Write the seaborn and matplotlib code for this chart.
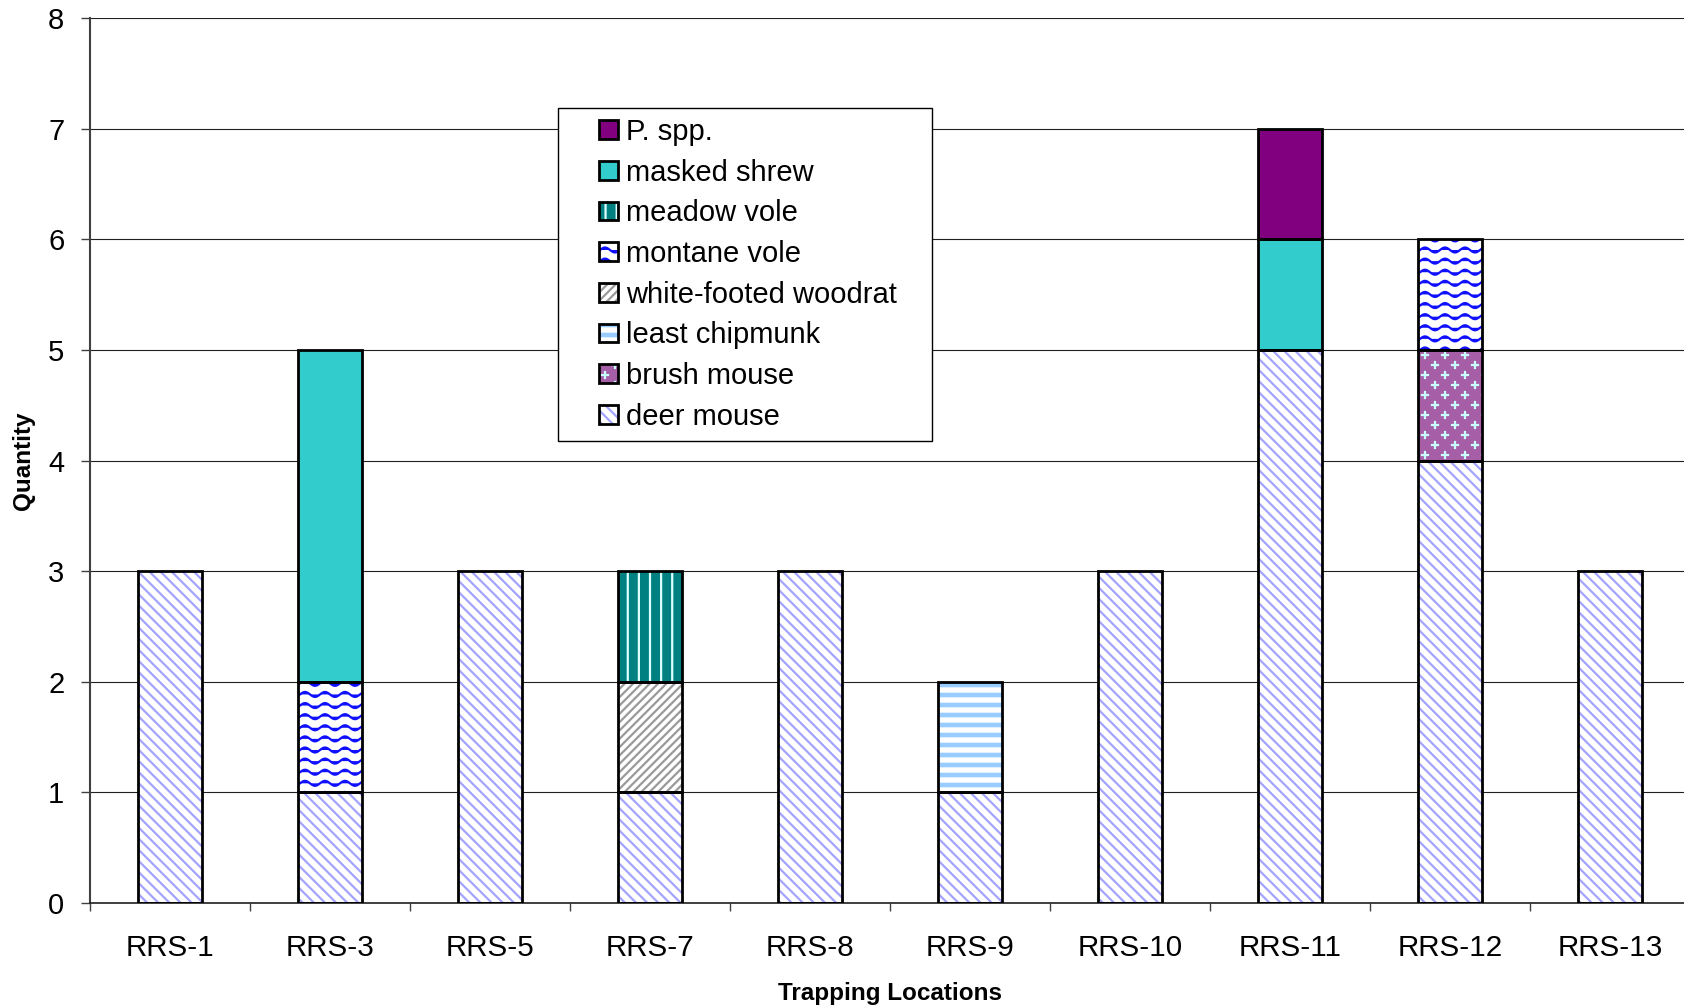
import warnings
import numpy as np
import matplotlib
matplotlib.use("Agg")
import matplotlib.pyplot as plt
import matplotlib.patches as mpatches
import matplotlib.hatch as mhatch
from matplotlib.path import Path
from matplotlib.legend_handler import HandlerPatch, HandlerTuple
import seaborn as sns

warnings.filterwarnings("ignore")

# ---- data -------------------------------------------------------------
locations = ["RRS-1", "RRS-3", "RRS-5", "RRS-7", "RRS-8",
             "RRS-9", "RRS-10", "RRS-11", "RRS-12", "RRS-13"]
deer_mouse = [3, 1, 3, 1, 3, 1, 3, 5, 4, 3]
brush_mouse = [0, 0, 0, 0, 0, 0, 0, 0, 1, 0]
least_chipmunk = [0, 0, 0, 0, 0, 1, 0, 0, 0, 0]
white_footed_woodrat = [0, 0, 0, 1, 0, 0, 0, 0, 0, 0]
montane_vole = [0, 1, 0, 0, 0, 0, 0, 0, 1, 0]
meadow_vole = [0, 0, 0, 1, 0, 0, 0, 0, 0, 0]
masked_shrew = [0, 3, 0, 0, 0, 0, 0, 1, 0, 0]
p_spp = [0, 0, 0, 0, 0, 0, 0, 1, 0, 0]

species = ["deer mouse", "brush mouse", "least chipmunk", "white-footed woodrat",
           "montane vole", "meadow vole", "masked shrew", "P. spp."]
counts = [deer_mouse, brush_mouse, least_chipmunk, white_footed_woodrat,
          montane_vole, meadow_vole, masked_shrew, p_spp]


# ---- extra fill patterns ------------------------------------------------
class WaveHatch(mhatch.HatchPatternBase):
    """'~' : rows of sine waves."""
    rows = 9
    waves = 5
    pts_per_wave = 16
    amp = 0.025

    def __init__(self, hatch, density):
        n = hatch.count("~")
        self.num_rows = self.rows * n
        self.npts = self.waves * self.pts_per_wave + 1
        self.num_vertices = self.num_rows * self.npts if n else 0

    def set_vertices_and_codes(self, vertices, codes):
        xs = np.linspace(0.0, 1.0, self.npts)
        for r in range(self.num_rows):
            y0 = (r + 0.5) / self.num_rows
            sl = slice(r * self.npts, (r + 1) * self.npts)
            vertices[sl, 0] = xs
            vertices[sl, 1] = y0 + self.amp * np.sin(2 * np.pi * self.waves * xs)
            codes[sl] = Path.LINETO
            codes[r * self.npts] = Path.MOVETO


class VerticalStripeHatch(mhatch.HatchPatternBase):
    """'I' : thin vertical stripes."""
    lines = 9

    def __init__(self, hatch, density):
        n = hatch.count("I")
        self.num_lines = self.lines * n
        self.num_vertices = self.num_lines * 2

    def set_vertices_and_codes(self, vertices, codes):
        xs = (np.arange(self.num_lines) + 0.5) / self.num_lines
        vertices[0::2, 0] = xs
        vertices[0::2, 1] = 0.0
        vertices[1::2, 0] = xs
        vertices[1::2, 1] = 1.0
        codes[0::2] = Path.MOVETO
        codes[1::2] = Path.LINETO


class BandHatch(mhatch.HatchPatternBase):
    """'=' : thick horizontal bands built from close lines."""
    bands = 10
    offsets = (-0.012, 0.0, 0.012)

    def __init__(self, hatch, density):
        n = hatch.count("=")
        self.num_lines = self.bands * n * len(self.offsets)
        self.num_vertices = self.num_lines * 2

    def set_vertices_and_codes(self, vertices, codes):
        nb = self.num_lines // len(self.offsets)
        ys = np.concatenate([(np.arange(nb) + 0.5) / nb + o for o in self.offsets])
        vertices[0::2, 0] = 0.0
        vertices[0::2, 1] = ys
        vertices[1::2, 0] = 1.0
        vertices[1::2, 1] = ys
        codes[0::2] = Path.MOVETO
        codes[1::2] = Path.LINETO


class CrossHatch(mhatch.HatchPatternBase):
    """'c' : staggered lattice of small plus signs."""
    rows = 10
    cols = 5
    arm = 0.03

    def __init__(self, hatch, density):
        n = hatch.count("c")
        self.centers = []
        if n:
            for r in range(self.rows):
                y = (r + 0.5) / self.rows
                shift = 0.5 / self.cols if r % 2 else 0.0
                for c in range(self.cols):
                    self.centers.append(((c + 0.25) / self.cols + shift, y))
        self.num_vertices = len(self.centers) * 4

    def set_vertices_and_codes(self, vertices, codes):
        a = self.arm
        for i, (x, y) in enumerate(self.centers):
            vertices[4 * i:4 * i + 4] = [(x - a, y), (x + a, y), (x, y - a), (x, y + a)]
            codes[4 * i:4 * i + 4] = [Path.MOVETO, Path.LINETO, Path.MOVETO, Path.LINETO]


mhatch._hatch_types.extend([WaveHatch, VerticalStripeHatch, BandHatch, CrossHatch])

# facecolor, hatch, hatch colour
styles = {
    "deer mouse": ("white", "\\\\\\", "#a4a4ff"),
    "brush mouse": ("#a65ea6", "c", "#c8ffff"),
    "least chipmunk": ("white", "=", "#99ccff"),
    "white-footed woodrat": ("white", "////", "#9a9a9a"),
    "montane vole": ("white", "~", "#1010ff"),
    "meadow vole": ("#008080", "I", "#dcffff"),
    "masked shrew": ("#33cccc", None, "#33cccc"),
    "P. spp.": ("#800080", None, "#800080"),
}

# ---- style --------------------------------------------------------------
sns.set_theme(style="ticks")
plt.rcParams["font.family"] = ["Liberation Sans", "DejaVu Sans"]
plt.rcParams["hatch.linewidth"] = 1.6
plt.rcParams["text.color"] = "black"
plt.rcParams["axes.labelcolor"] = "black"

fig = plt.figure(figsize=(16.84, 10.08), dpi=100)
ax = fig.add_axes([90 / 1684, 1 - 903 / 1008, 1600 / 1684, 885 / 1008])

# ---- stacked bars -------------------------------------------------------
bottom = np.zeros(len(locations))
for name, vals in zip(species, counts):
    vals = np.asarray(vals, dtype=float)
    keep = vals > 0
    xs = [loc for loc, k in zip(locations, keep) if k]
    fc, hatch, hc = styles[name]
    common = dict(x=xs, y=vals[keep], order=locations, width=0.4,
                  errorbar=None, saturation=1, ax=ax, bottom=bottom[keep])
    sns.barplot(**common, color=fc, facecolor=fc, edgecolor=hc, linewidth=0,
                hatch=hatch, zorder=2)
    sns.barplot(**common, color="black", facecolor="none", edgecolor="black",
                linewidth=2, zorder=3)
    bottom += vals

# ---- axes ---------------------------------------------------------------
ax.set_xlim(-0.5, len(locations) - 0.5)
ax.set_ylim(0, 8)
ax.set_yticks(range(0, 9))
ax.set_xticks(range(len(locations)))
ax.set_xticklabels(locations)
ax.set_xticks(np.arange(-0.5, len(locations), 1.0), minor=True)
ax.tick_params(axis="x", which="major", length=0, pad=22, labelsize=21.3,
               labelcolor="black")
ax.tick_params(axis="x", which="minor", length=6, width=1, color="#404040",
               direction="out")
ax.tick_params(axis="y", length=6.5, width=1, color="#404040", pad=12,
               labelsize=21, labelcolor="black")

ax.yaxis.grid(True, color="#202020", linewidth=0.8, zorder=0)
ax.xaxis.grid(False)
ax.set_axisbelow(True)
for side in ("top", "right"):
    ax.spines[side].set_visible(False)
ax.spines["left"].set_color("#404040")
ax.spines["left"].set_linewidth(1.5)
ax.spines["bottom"].set_color("#202020")
ax.spines["bottom"].set_linewidth(1.2)

ax.set_xlabel("Trapping Locations", fontsize=17.5, fontweight="bold", color="black")
ax.set_ylabel("Quantity", fontsize=17.5, fontweight="bold", color="black")
ax.xaxis.set_label_coords(0.5, -0.0895)
ax.yaxis.set_label_coords(-0.0344, 0.5)

# ---- legend -------------------------------------------------------------
handles, labels = [], []
for name in reversed(species):
    fc, hatch, hc = styles[name]
    fill = mpatches.Patch(facecolor=fc, edgecolor=hc, linewidth=0, hatch=hatch)
    outline = mpatches.Patch(facecolor="none", edgecolor="black", linewidth=2)
    handles.append((fill, outline))
    labels.append(name)


def square_handle(legend, orig_handle, xdescent, ydescent, width, height, fontsize):
    s = 13.5
    return mpatches.Rectangle((width - s - xdescent, (height - s) / 2 - ydescent), s, s)


leg = ax.legend(handles, labels,
                handler_map={tuple: HandlerTuple(ndivide=1),
                             mpatches.Patch: HandlerPatch(patch_func=square_handle)},
                loc="upper left",
                bbox_to_anchor=(558 / 1684, 1 - 108 / 1008, 374 / 1684, 0),
                bbox_transform=fig.transFigure, mode="expand",
                borderaxespad=0, borderpad=0.34, fontsize=21,
                handlelength=1.7, handleheight=0.65, handletextpad=0.28,
                labelspacing=0.435, frameon=True, fancybox=False,
                framealpha=1, edgecolor="black", shadow=False,
                labelcolor="black")
leg.get_frame().set_linewidth(1.0)
leg.set_zorder(5)

fig.savefig("out.png", dpi=100)
